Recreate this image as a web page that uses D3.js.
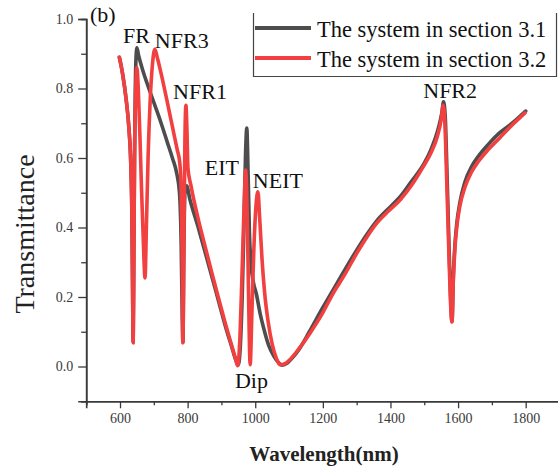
<!DOCTYPE html>
<html>
<head>
<meta charset="utf-8">
<script src="https://cdn.jsdelivr.net/npm/d3@7"></script>
<style>
  html, body { margin: 0; padding: 0; background: #fff; }
  svg { display: block; }
  svg text { font-family: "Liberation Serif", "Times New Roman", serif !important; }
</style>
</head>
<body>
<svg id="chart" width="558" height="468"></svg>
<script>
// ---- data ----
const blackWl = [598,608,618,626,632,635,637,639,641,643,645,647,650,655,665,680,700,720,740,755,768,776,781,784,786,789,792,797,807,830,850,870,896,915,930,942,950,956,962,967,971,975,979,983,988,995,1003,1015,1025,1040,1055,1070,1080,1095,1110,1130,1160,1200,1230,1260,1300,1330,1360,1400,1430,1460,1500,1520,1540,1552,1557,1562,1566,1570,1574,1578,1582,1586,1590,1596,1605,1620,1640,1660,1690,1720,1760,1800];
const blackT  = [0.89,0.84,0.77,0.69,0.58,0.45,0.25,0.07,0.35,0.6,0.78,0.88,0.917,0.895,0.86,0.815,0.76,0.705,0.645,0.6,0.555,0.5,0.35,0.15,0.07,0.35,0.5,0.52,0.48,0.405,0.335,0.265,0.172,0.105,0.058,0.02,0.005,0.06,0.22,0.42,0.6,0.686,0.55,0.38,0.29,0.24,0.21,0.15,0.11,0.06,0.03,0.01,0.004,0.01,0.025,0.05,0.1,0.17,0.22,0.27,0.335,0.38,0.42,0.46,0.49,0.53,0.585,0.625,0.68,0.73,0.762,0.72,0.6,0.46,0.32,0.2,0.13,0.26,0.34,0.41,0.47,0.53,0.575,0.605,0.64,0.67,0.7,0.735];

const redWl = [598,608,618,626,632,635,637,639,641,643,646,650,654,659,664,669,674,678,683,689,696,703,710,720,739,755,769,777,781,784,786,789,792,795,798,801,810,830,850,870,896,915,930,942,948,955,961,966,972,976,980,985,990,996,1002,1008,1013,1020,1028,1038,1050,1062,1073,1088,1103,1130,1162,1200,1230,1265,1301,1330,1360,1395,1429,1465,1497,1520,1538,1550,1556,1561,1565,1569,1573,1577,1582,1586,1590,1596,1605,1620,1640,1660,1690,1725,1760,1798];
const redT  = [0.89,0.84,0.77,0.69,0.58,0.45,0.25,0.068,0.3,0.6,0.78,0.86,0.8,0.66,0.5,0.36,0.255,0.4,0.6,0.76,0.87,0.913,0.89,0.85,0.765,0.69,0.625,0.585,0.5,0.3,0.068,0.35,0.65,0.752,0.68,0.57,0.52,0.43,0.352,0.276,0.18,0.112,0.062,0.021,0.002,0.09,0.27,0.43,0.565,0.45,0.22,0.005,0.15,0.34,0.46,0.503,0.43,0.31,0.21,0.13,0.065,0.025,0.005,0.008,0.02,0.052,0.096,0.155,0.21,0.265,0.327,0.372,0.413,0.448,0.48,0.525,0.575,0.615,0.66,0.71,0.752,0.70,0.58,0.45,0.32,0.2,0.128,0.25,0.33,0.40,0.46,0.515,0.56,0.59,0.625,0.66,0.695,0.73];

const seriesNames = ["The system in section 3.1", "The system in section 3.2"];
const seriesColors = ["#4d4d4d", "#f23f3f"];

const xMajorTicks = [600, 800, 1000, 1200, 1400, 1600, 1800];
const xMinorTicks = [500, 700, 900, 1100, 1300, 1500, 1700, 1900];
const yMajorTicks = [0.0, 0.2, 0.4, 0.6, 0.8, 1.0];
const yMinorTicks = [-0.1, 0.1, 0.3, 0.5, 0.7, 0.9];

const annotations = [
  {t: "(b)",  x: 511, y: 0.991},
  {t: "FR",   x: 609, y: 0.931},
  {t: "NFR3", x: 703, y: 0.917},
  {t: "NFR1", x: 757, y: 0.77},
  {t: "EIT",  x: 851, y: 0.551},
  {t: "NEIT", x: 993, y: 0.515},
  {t: "Dip",  x: 940, y: -0.062},
  {t: "NFR2", x: 1497, y: 0.773}
];

// ---- scales ----
const svg = d3.select("#chart");
const x = d3.scaleLinear().domain([500, 1900]).range([86.2, 559.5]);
const y = d3.scaleLinear().domain([-0.1, 1.0]).range([401.25, 19]);

// ---- axes ----
const axisColor = "#3a3a3a";
const serif = '"Liberation Serif", "Times New Roman", serif';
svg.append("g").attr("transform", `translate(0,${y(-0.1)})`)
  .call(d3.axisBottom(x).tickValues(xMajorTicks).tickSize(7).tickPadding(5).tickFormat(d3.format("d")))
  .attr("font-family", serif);
svg.append("g").attr("transform", `translate(0,${y(-0.1)})`)
  .call(d3.axisBottom(x).tickValues(xMinorTicks).tickSize(4).tickFormat(""));
svg.append("g").attr("transform", `translate(${x(500)},0)`)
  .call(d3.axisLeft(y).tickValues(yMajorTicks).tickSize(8).tickPadding(5).tickFormat(d3.format(".1f")))
  .attr("font-family", serif);
svg.append("g").attr("transform", `translate(${x(500)},0)`)
  .call(d3.axisLeft(y).tickValues(yMinorTicks).tickSize(5).tickFormat(""));

svg.selectAll(".domain").attr("stroke", axisColor).attr("stroke-width", 1.6);
svg.selectAll(".tick line").attr("stroke", axisColor).attr("stroke-width", 1.3);
svg.selectAll(".tick text").attr("fill", "#3a3a3a").attr("font-size", 14);

// axis titles
svg.append("text").attr("x", 324).attr("y", 461).attr("text-anchor", "middle")
  .attr("font-size", 21).attr("font-weight", "bold").attr("fill", "#222").text("Wavelength(nm)");
svg.append("text").attr("transform", `translate(34,${234}) rotate(-90)`).attr("text-anchor", "middle")
  .attr("font-size", 28).attr("fill", "#222").text("Transmittance");

// ---- lines ----
const line = d3.line().x(d => x(d[0])).y(d => y(d[1])).curve(d3.curveMonotoneX);
const blackData = blackWl.map((w, i) => [w, blackT[i]]);
const redData = redWl.map((w, i) => [w, redT[i]]);
[blackData, redData].forEach((data, i) => {
  svg.append("path").datum(data).attr("d", line)
    .attr("fill", "none").attr("stroke", seriesColors[i]).attr("stroke-width", 3.6)
    .attr("stroke-linejoin", "round").attr("stroke-linecap", "round");
});

// ---- annotations ----
svg.selectAll(".ann").data(annotations).enter().append("text")
  .attr("class", "ann").attr("x", d => x(d.x)).attr("y", d => y(d.y))
  .attr("font-size", 22).attr("fill", "#111").text(d => d.t);

// ---- legend ----
const lg = svg.append("g");
lg.append("path").attr("d", "M253.5,13 V76.5 H556.5 V13")
  .attr("fill", "none").attr("stroke", "#444").attr("stroke-width", 1.2);
seriesNames.forEach((name, i) => {
  const yy = 28 + i * 30;
  lg.append("line").attr("x1", 255).attr("x2", 311).attr("y1", yy).attr("y2", yy)
    .attr("stroke", seriesColors[i]).attr("stroke-width", 4);
  lg.append("text").attr("x", 317).attr("y", yy + 8.5).attr("font-size", 22.5)
    .attr("fill", "#111").text(name);
});
</script>
</body>
</html>
